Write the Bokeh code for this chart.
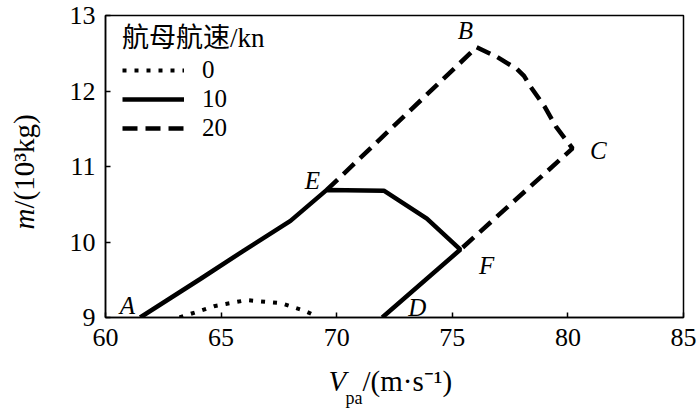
import math
from bokeh.plotting import figure
from bokeh.models import Range1d, Label, Legend, LegendItem, FixedTicker, Title
from bokeh.embed import file_html
from bokeh.resources import INLINE

# ---- data ----
speed0_x = [63.2, 64.7, 65.2, 66.1, 67.6, 68.6, 69.1]
speed0_y = [9.00, 9.15, 9.18, 9.23, 9.19, 9.09, 9.02]

speed10_x = [61.5, 64.1, 66.0, 68.0, 69.57, 72.04, 73.9, 75.35, 71.97]
speed10_y = [9.00, 9.51, 9.89, 10.28, 10.69, 10.68, 10.31, 9.90, 9.00]

speed20_x = [69.57, 76.05, 76.94, 77.8, 78.1, 78.4, 79.0, 79.5, 80.2, 75.35]
speed20_y = [10.69, 12.58, 12.45, 12.29, 12.2, 12.05, 11.79, 11.52, 11.24, 9.90]

point_names = ["A", "B", "C", "D", "E", "F"]
point_x = [60.95, 75.57, 81.32, 73.49, 68.95, 76.48]
point_y = [9.16, 12.80, 11.21, 9.13, 10.81, 9.69]

x_ticks = [60, 65, 70, 75, 80, 85]
y_ticks = [9, 10, 11, 12, 13]
legend_title = "航母航速/kn"
legend_labels = ["0", "10", "20"]

SERIF = "Liberation Serif"
CJK = "Liberation Serif, Noto Sans CJK SC"

FL, FT, FW, FH = 105, 15, 578, 302   # frame left/top/width/height in page pixels
FB = FT + FH

p = figure(frame_width=FW, frame_height=FH,
           min_border_left=FL, min_border_right=700 - FL - FW,
           min_border_top=FT, min_border_bottom=414 - FB,
           x_range=Range1d(60, 85), y_range=Range1d(9, 13),
           output_backend="svg", toolbar_location=None)

p.xgrid.visible = False
p.ygrid.visible = False
p.outline_line_color = "black"
p.outline_line_width = 1.5
p.background_fill_color = "white"
p.border_fill_color = "white"

for ax, ticks in ((p.xaxis[0], x_ticks), (p.yaxis[0], y_ticks)):
    ax.ticker = FixedTicker(ticks=ticks)
    ax.major_label_text_font = SERIF
    ax.major_label_text_font_size = "26px"
    ax.major_label_text_color = "black"
    ax.major_tick_in = 5
    ax.major_tick_out = 0
    ax.minor_tick_in = 0
    ax.minor_tick_out = 0
    ax.axis_line_width = 1.5
    ax.axis_line_color = "black"
    ax.major_tick_line_width = 1.5
    ax.major_tick_line_color = "black"
p.xaxis.major_label_standoff = 11
p.yaxis.major_label_standoff = 10

r0 = p.line(speed0_x, speed0_y, line_color="black", line_width=4, line_dash="4 8")
r10 = p.line(speed10_x, speed10_y, line_color="black", line_width=4.5)
r20 = p.line(speed20_x, speed20_y, line_color="black", line_width=4.5, line_dash="15 8")

for name, x, y in zip(point_names, point_x, point_y):
    p.add_layout(Label(x=x, y=y, text=name, text_font=SERIF, text_font_style="italic",
                       text_font_size="25px", text_align="center", text_baseline="middle",
                       text_color="black"))

legend = Legend(items=[LegendItem(label=legend_labels[0], renderers=[r0]),
                       LegendItem(label=legend_labels[1], renderers=[r10]),
                       LegendItem(label=legend_labels[2], renderers=[r20])],
                location=(17, 175), title=legend_title)
legend.title_text_font = CJK
legend.title_text_font_size = "27px"
legend.title_text_font_style = "normal"
legend.title_text_color = "black"
legend.title_standoff = 1
legend.label_text_font = SERIF
legend.label_text_font_size = "25px"
legend.label_text_color = "black"
legend.glyph_width = 62
legend.glyph_height = 20
legend.label_height = 20
legend.label_standoff = 18
legend.spacing = 1
legend.padding = 0
legend.margin = 0
legend.border_line_color = None
legend.background_fill_alpha = 0
p.add_layout(legend)

# ---- axis titles as Title annotations in the side panels ----
H29 = 32                 # text box height of 29px serif
s_main = 32              # first row below the x axis (positive size)
s_v = -2 * (H29 + 18)    # zero-size row, same line as s_main
s_pa = 2 * (5 - H29)     # zero-size row, subscript line

def tt(text, size, style, standoff, offset):
    return Title(text=text, text_font=SERIF, text_font_size=size, text_font_style=style,
                 align="left", vertical_align="top", standoff=standoff, offset=offset,
                 text_color="black")

p.add_layout(tt("/(m·s⁻¹)", "29px", "normal", s_main, 362 - FL), "below")
p.add_layout(tt("V", "29px", "italic", s_v, 328 - FL), "below")
p.add_layout(tt("pa", "18px", "normal", s_pa, 345 - FL), "below")

R = 66                   # left edge of the y-axis row
s_left = 2 * (7 - R)     # zero-size rows, text top at x = 7
p.add_layout(tt("/(10³kg)", "29px", "normal", s_left, FB - 208), "left")
p.add_layout(tt("m", "29px", "italic", s_left, FB - 229), "left")

open("out.html", "w").write(file_html(p, INLINE))
